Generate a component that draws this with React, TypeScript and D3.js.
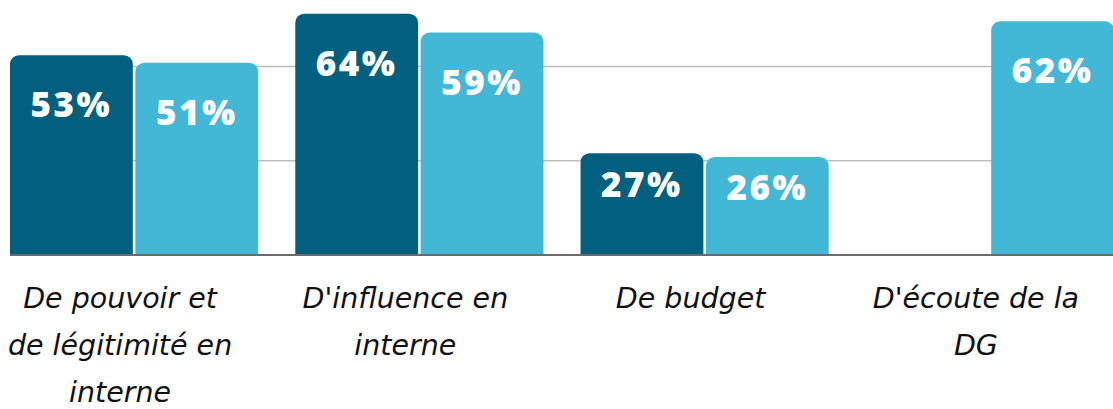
import React from "react";
import * as d3 from "d3";

const categories = [
  "De pouvoir et de légitimité en interne",
  "D'influence en interne",
  "De budget",
  "D'écoute de la DG",
];
const categoryLines = [
  ["De pouvoir et", "de légitimité en", "interne"],
  ["D'influence en", "interne"],
  ["De budget"],
  ["D'écoute de la", "DG"],
];
const seriesNames = ["Série 1", "Série 2"];
const series1: (number | null)[] = [53, 64, 27, null];
const series2: (number | null)[] = [51, 59, 26, 62];
const gridTicks = [25, 50, 75];

const W = 1113;
const H = 409;
const colors = ["#015f7f", "#43b8d6"];

function topRoundedRect(x: number, y: number, w: number, h: number, r: number) {
  const rr = Math.min(r, h, w / 2);
  const p = d3.path();
  p.moveTo(x, y + h);
  p.lineTo(x, y + rr);
  p.arcTo(x, y, x + rr, y, rr);
  p.lineTo(x + w - rr, y);
  p.arcTo(x + w, y, x + w, y + rr, rr);
  p.lineTo(x + w, y + h);
  p.closePath();
  return p.toString();
}

export default function App() {
  const x0 = d3.scaleBand<string>().domain(categories).range([10, 1114]).paddingInner(0.13).paddingOuter(0);
  const x1 = d3.scaleBand<string>().domain(seriesNames).range([0, x0.bandwidth()]).paddingInner(0.02);
  const y = d3.scaleLinear().domain([0, 100]).range([255, -122]);
  const data = [series1, series2];

  return (
    <svg width={W} height={H} style={{ position: "absolute", left: 0, top: 0, display: "block" }}>
      <rect width={W} height={H} fill="#ffffff" />
      {gridTicks.map((t) => (
        <line key={t} x1={10} x2={W} y1={y(t)} y2={y(t)} stroke="#bdbdbd" strokeWidth={1.5} />
      ))}
      {categories.map((c, ci) =>
        seriesNames.map((s, si) => {
          const v = data[si][ci];
          if (v == null) return null;
          const bx = (x0(c) as number) + (x1(s) as number);
          const bw = x1.bandwidth();
          const top = y(v);
          const h = y(0) - top;
          const off = Math.min(62, 0.435 * h);
          return (
            <g key={c + s}>
              <path d={topRoundedRect(bx, top, bw, h, 9)} fill={colors[si]} />
              <text
                x={bx + bw / 2}
                y={top + off}
                textAnchor="middle"
                fill="#ffffff"
                fontFamily="'Open Sans', sans-serif"
                fontWeight={800}
                fontSize={35}
                letterSpacing={2.5}
              >
                {v}%
              </text>
            </g>
          );
        })
      )}
      <line x1={10} x2={W} y1={y(0)} y2={y(0)} stroke="#6b6b6b" strokeWidth={2} />
      {categories.map((c, ci) => (
        <text
          key={c}
          textAnchor="middle"
          fontFamily="'DejaVu Sans', sans-serif"
          fontStyle="oblique"
          fontSize={28.5}
          fill="#111111"
        >
          {categoryLines[ci].map((ln, li) => (
            <tspan key={li} x={(x0(c) as number) + x0.bandwidth() / 2 - 14} y={308 + li * 47}>
              {ln}
            </tspan>
          ))}
        </text>
      ))}
    </svg>
  );
}
